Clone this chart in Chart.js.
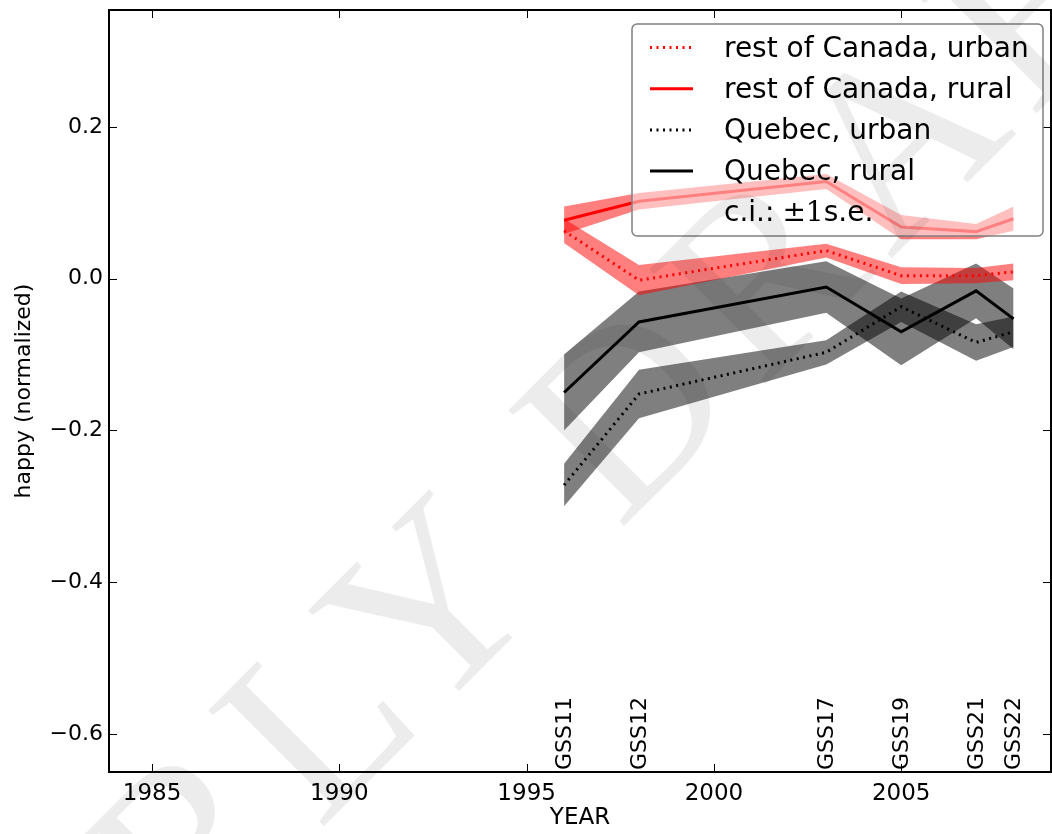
<!DOCTYPE html>
<html>
<head>
<meta charset="utf-8">
<script src="https://cdn.jsdelivr.net/npm/chart.js@4.4.1/dist/chart.umd.min.js"></script>
<style>
html,body{margin:0;padding:0;background:#fff;}
canvas{display:block;}
</style>
</head>
<body>
<canvas id="happyChart" width="1052" height="834"></canvas>
<script>

// survey years and names
const years = [1996, 1998, 2003, 2005, 2007, 2008];
const surveys = ['GSS11', 'GSS12', 'GSS17', 'GSS19', 'GSS21', 'GSS22'];

const xTicks = [1985, 1990, 1995, 2000, 2005];
const yTicks = [-0.6, -0.4, -0.2, 0.0, 0.2];

// means and standard errors
const rocUrban   = [0.063, -0.002, 0.037, 0.004, 0.004, 0.009];
const rocUrbanSe = [0.016, 0.020, 0.009, 0.011, 0.010, 0.011];
const rocRural   = [0.077, 0.102, 0.128, 0.068, 0.062, 0.079];
const rocRuralSe = [0.018, 0.011, 0.010, 0.016, 0.010, 0.016];
const quUrban    = [-0.272, -0.152, -0.097, -0.037, -0.084, -0.070];
const quUrbanSe  = [0.028, 0.032, 0.016, 0.020, 0.024, 0.020];
const quRural    = [-0.150, -0.057, -0.011, -0.070, -0.016, -0.053];
const quRuralSe  = [0.050, 0.040, 0.034, 0.044, 0.036, 0.040];

const seriesNames = ['rest of Canada, urban', 'rest of Canada, rural', 'Quebec, urban', 'Quebec, rural'];
const seriesMeans = [rocUrban, rocRural, quUrban, quRural];
const seriesSe = [rocUrbanSe, rocRuralSe, quUrbanSe, quRuralSe];
const seriesColors = ['#ff0000', '#ff0000', '#000000', '#000000'];
const seriesDotted = [true, false, true, false];
const bandColors = ['rgba(255,0,0,0.5)', 'rgba(255,0,0,0.5)', 'rgba(0,0,0,0.5)', 'rgba(0,0,0,0.5)'];

const FONT = '"DejaVu Sans", sans-serif';
const DOTS = [2, 4.5];

function points(vals, se, k){
  return years.map((yr, i) => ({x: yr, y: vals[i] + k * se[i]}));
}

let datasets = [];

// lines on top
seriesMeans.forEach((vals, s) => {
  datasets.push({
    label: seriesNames[s],
    data: points(vals, seriesSe[s], 0),
    borderColor: seriesColors[s],
    borderWidth: 3,
    borderDash: seriesDotted[s] ? DOTS : [],
    pointRadius: 0,
    fill: false,
    tension: 0
  });
});

// +-1 s.e. bands
seriesMeans.forEach((vals, s) => {
  datasets.push({
    label: seriesNames[s] + ' upper',
    data: points(vals, seriesSe[s], 1),
    borderColor: 'transparent',
    borderWidth: 0,
    pointRadius: 0,
    backgroundColor: bandColors[s],
    fill: '+1',
    tension: 0
  });
  datasets.push({
    label: seriesNames[s] + ' lower',
    data: points(vals, seriesSe[s], -1),
    borderColor: 'transparent',
    borderWidth: 0,
    pointRadius: 0,
    fill: false,
    tension: 0
  });
});

function fmtY(v){
  if (Math.abs(v) < 1e-9) return '0.0';
  return (v < 0 ? '\u2212' : '') + Math.abs(v).toFixed(1);
}

// frame, inward ticks and survey labels
const framePlugin = {
  id: 'frame',
  afterDatasetsDraw(chart){
    const ctx = chart.ctx;
    const a = chart.chartArea;
    const xs = chart.scales.x;
    const ys = chart.scales.y;
    ctx.save();

    ctx.fillStyle = '#000';
    ctx.font = '22px ' + FONT;
    ctx.textAlign = 'left';
    ctx.textBaseline = 'middle';
    surveys.forEach((name, i) => {
      ctx.save();
      ctx.translate(xs.getPixelForValue(years[i]) + 1, a.bottom - 2);
      ctx.rotate(-Math.PI / 2);
      ctx.fillText(name, 0, 0);
      ctx.restore();
    });

    ctx.strokeStyle = '#000';
    ctx.lineWidth = 1;
    ctx.beginPath();
    xTicks.forEach(v => {
      const px = Math.round(xs.getPixelForValue(v)) + 0.5;
      ctx.moveTo(px, a.bottom); ctx.lineTo(px, a.bottom - 8);
      ctx.moveTo(px, a.top); ctx.lineTo(px, a.top + 8);
    });
    yTicks.forEach(v => {
      const py = Math.round(ys.getPixelForValue(v)) + 0.5;
      ctx.moveTo(a.left, py); ctx.lineTo(a.left + 8, py);
      ctx.moveTo(a.right, py); ctx.lineTo(a.right - 8, py);
    });
    ctx.stroke();

    ctx.lineWidth = 2;
    ctx.strokeRect(a.left, a.top, a.right - a.left, a.bottom - a.top);
    ctx.restore();
  }
};

// legend box drawn inside the plot
const legendPlugin = {
  id: 'boxLegend',
  afterDatasetsDraw(chart){
    const ctx = chart.ctx;
    const bx = 632, by = 24, bw = 411, bh = 212;
    ctx.save();
    ctx.beginPath();
    ctx.roundRect(bx, by, bw, bh, 5);
    ctx.fillStyle = 'rgba(255,255,255,0.5)';
    ctx.fill();
    ctx.strokeStyle = '#808080';
    ctx.lineWidth = 1.5;
    ctx.stroke();

    ctx.font = '28px ' + FONT;
    ctx.textAlign = 'left';
    ctx.textBaseline = 'alphabetic';
    seriesNames.forEach((name, i) => {
      const y = 47.5 + i * 41.2;
      ctx.beginPath();
      ctx.strokeStyle = seriesColors[i];
      ctx.lineWidth = 3;
      ctx.setLineDash(seriesDotted[i] ? DOTS : []);
      ctx.moveTo(650, y);
      ctx.lineTo(693, y);
      ctx.stroke();
      ctx.setLineDash([]);
      ctx.fillStyle = '#000';
      ctx.fillText(name, 724, y + 9);
    });

    const yc = 47.5 + 4 * 41.2 + 9;
    let x = 724;
    ctx.fillText('c.i.:', x, yc);
    x += ctx.measureText('c.i.:').width + 8;
    ctx.font = '28px "DejaVu Serif", serif';
    ctx.fillText('\u00b11', x, yc);
    x += ctx.measureText('\u00b11').width;
    ctx.font = '28px ' + FONT;
    ctx.fillText('s.e.', x, yc);
    ctx.restore();
  }
};

// light diagonal watermark
const watermarkPlugin = {
  id: 'watermark',
  afterDraw(chart){
    const ctx = chart.ctx;
    ctx.save();
    ctx.font = '250px "Liberation Serif", serif';
    ctx.letterSpacing = '18px';
    ctx.fillStyle = 'rgba(0,0,0,0.075)';
    ctx.translate(619, 531);
    ctx.rotate(-Math.PI / 4);
    ctx.textBaseline = 'alphabetic';
    ctx.fillText('EARLY DRAFT', -ctx.measureText('EARLY ').width, 0);
    ctx.restore();
  }
};

new Chart(
  document.getElementById('happyChart'),
  {
    type: 'line',
    data: { datasets: datasets },
    options: {
      responsive: false,
      devicePixelRatio: 1,
      animation: false,
      layout: { padding: { top: 10, right: 1, bottom: 0, left: 0 } },
      plugins: {
        legend: { display: false },
        tooltip: { enabled: false }
      },
      scales: {
        x: {
          type: 'linear',
          min: 1983.85,
          max: 2009,
          grid: { display: false, drawTicks: false },
          border: { display: false },
          afterBuildTicks: s => { s.ticks = xTicks.map(v => ({value: v})); },
          afterFit: s => { s.height = 62; s.paddingLeft = 0; s.paddingRight = 0; },
          ticks: {
            autoSkip: false,
            maxRotation: 0,
            padding: 8,
            color: '#000',
            font: { family: FONT, size: 23 },
            callback: v => String(v)
          },
          title: {
            display: true,
            text: 'YEAR',
            color: '#000',
            font: { family: FONT, size: 23 },
            padding: { top: 0, bottom: 2 }
          }
        },
        y: {
          min: -0.65,
          max: 0.354,
          grid: { display: false, drawTicks: false },
          border: { display: false },
          afterBuildTicks: s => { s.ticks = yTicks.map(v => ({value: v})); },
          afterFit: s => { s.width = 109; s.paddingTop = 0; s.paddingBottom = 0; },
          ticks: {
            padding: 6,
            color: '#000',
            font: { family: FONT, size: 22 },
            callback: v => fmtY(v)
          },
          title: {
            display: true,
            text: 'happy (normalized)',
            color: '#000',
            font: { family: FONT, size: 22 },
            padding: { top: 11, bottom: 0 }
          }
        }
      }
    },
    plugins: [framePlugin, legendPlugin, watermarkPlugin]
  }
);

</script>
</body>
</html>
